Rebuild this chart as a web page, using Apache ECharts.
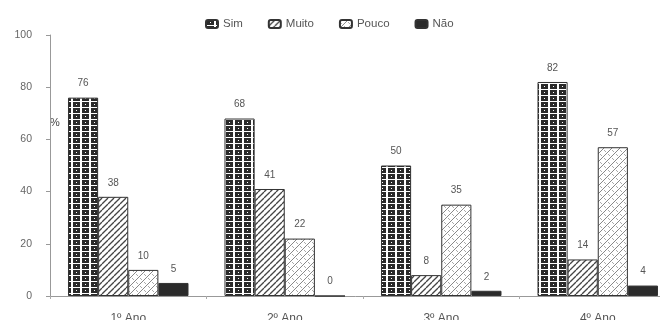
<!DOCTYPE html>
<html>
<head>
<meta charset="utf-8">
<script src="https://cdn.jsdelivr.net/npm/echarts@6/dist/echarts.min.js"></script>
<style>html,body{margin:0;padding:0;background:#fff}#c{width:660px;height:320px}</style>
</head>
<body>
<div id="c"></div>
<script>
var categories = ['1º Ano', '2º Ano', '3º Ano', '4º Ano'];
var seriesNames = ['Sim', 'Muito', 'Pouco', 'Não'];
var sim = [76, 68, 50, 82];
var muito = [38, 41, 8, 14];
var pouco = [10, 22, 35, 57];
var nao = [5, 0, 2, 4];
var yTicks = [0, 20, 40, 60, 80, 100];

function tile(w, h, draw) {
  var c = document.createElement('canvas');
  c.width = w; c.height = h;
  var ctx = c.getContext('2d');
  ctx.fillStyle = '#fff'; ctx.fillRect(0, 0, w, h);
  draw(ctx, w, h);
  return {image: c, repeat: 'repeat'};
}
var simFill = tile(9, 6, function (ctx) {
  ctx.fillStyle = '#2a2a2a';
  ctx.fillRect(1, 0, 7, 5);
  ctx.fillStyle = '#fff';
  ctx.fillRect(4, 2, 1, 1);
});
var muitoFill = tile(6, 6, function (ctx, w, h) {
  ctx.strokeStyle = '#444'; ctx.lineWidth = 1.3;
  for (var k = -1; k <= 1; k++) {
    ctx.beginPath(); ctx.moveTo(k * w, h); ctx.lineTo(k * w + w, 0); ctx.stroke();
  }
});
var poucoFill = tile(8, 8, function (ctx, w, h) {
  ctx.strokeStyle = '#888'; ctx.lineWidth = 1;
  for (var k = -1; k <= 1; k++) {
    ctx.beginPath(); ctx.moveTo(k * w, h); ctx.lineTo(k * w + w, 0); ctx.stroke();
  }
  ctx.strokeStyle = '#aaa';
  ctx.beginPath(); ctx.moveTo(0, 2); ctx.lineTo(2, 4); ctx.stroke();
  ctx.beginPath(); ctx.moveTo(4, 6); ctx.lineTo(6, 8); ctx.stroke();
});
var fills = [simFill, muitoFill, poucoFill, '#2b2b2b'];
var datas = [sim, muito, pouco, nao];

var chart = echarts.init(document.getElementById('c'), null, {renderer: 'canvas'});
chart.setOption({
  animation: false,
  textStyle: {fontFamily: 'Liberation Sans, Arial, sans-serif'},
  legend: {
    top: 13, left: 200, itemWidth: 12, itemHeight: 8, itemGap: 25,
    textStyle: {fontSize: 11.5, color: '#555'},
    data: seriesNames
  },
  grid: {left: 50, top: 35, bottom: 24, width: 626, outerBoundsMode: 'none', containLabel: false},
  graphic: [{type: 'text', left: 50, top: 117, style: {text: '%', fontSize: 11, fill: '#444'}}],
  xAxis: {
    type: 'category', data: categories,
    axisLine: {lineStyle: {color: '#999'}},
    axisTick: {show: true, length: 3, lineStyle: {color: '#aaa'}},
    axisLabel: {fontSize: 12, color: '#555', margin: 17}
  },
  yAxis: {
    type: 'value', min: yTicks[0], max: yTicks[yTicks.length - 1], interval: 20,
    splitLine: {show: false},
    axisLine: {show: true, lineStyle: {color: '#999'}},
    axisTick: {show: true, length: 4, lineStyle: {color: '#999'}},
    axisLabel: {fontSize: 10.5, color: '#666', margin: 18}
  },
  series: seriesNames.map(function (n, i) {
    return {
      name: n, type: 'bar', data: datas[i],
      barGap: '0%', barCategoryGap: '23%',
      itemStyle: {color: fills[i], borderColor: '#333', borderWidth: 1},
      label: {show: true, position: 'top', distance: 9, fontSize: 10, color: '#555'}
    };
  })
});
</script>
</body>
</html>
